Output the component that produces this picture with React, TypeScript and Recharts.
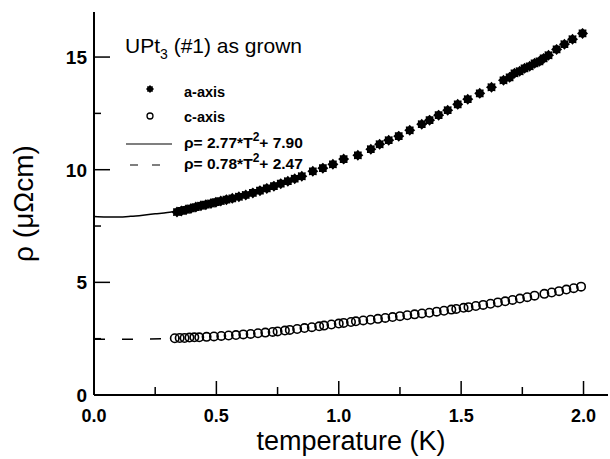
import React from "react";
import { ComposedChart, XAxis, YAxis, Scatter, Line, Legend, Label } from "recharts";

const xTicks = [0, 0.25, 0.5, 0.75, 1, 1.25, 1.5, 1.75, 2];
const xMajor = [0, 0.5, 1, 1.5, 2];
const yTicks = [0, 2.5, 5, 7.5, 10, 12.5, 15];
const yMajor = [0, 5, 10, 15];

// [T (K), rho (µΩcm)]
const aAxis: [number, number][] = [
  [0.339, 8.12], [0.357, 8.17], [0.376, 8.22], [0.396, 8.28], [0.416, 8.34],
  [0.437, 8.4], [0.457, 8.45], [0.478, 8.5], [0.498, 8.56], [0.518, 8.61],
  [0.541, 8.67], [0.565, 8.73], [0.592, 8.8], [0.62, 8.88], [0.649, 8.97],
  [0.678, 9.07], [0.706, 9.17], [0.735, 9.27], [0.763, 9.38], [0.792, 9.49],
  [0.82, 9.6], [0.849, 9.71], [0.894, 9.93], [0.935, 10.07], [0.976, 10.24],
  [1.02, 10.47], [1.078, 10.64], [1.131, 10.91], [1.167, 11.13], [1.204, 11.31],
  [1.245, 11.49], [1.29, 11.75], [1.339, 12.02], [1.371, 12.2], [1.408, 12.42],
  [1.445, 12.64], [1.486, 12.9], [1.527, 13.13], [1.576, 13.39], [1.624, 13.66],
  [1.673, 13.97], [1.698, 14.1], [1.718, 14.28], [1.739, 14.37], [1.759, 14.5],
  [1.78, 14.59], [1.8, 14.72], [1.82, 14.81], [1.837, 14.94], [1.857, 15.08],
  [1.89, 15.34], [1.922, 15.57], [1.955, 15.79], [1.996, 16.05],
];

const cAxis: [number, number][] = [
  [0.33, 2.52], [0.35, 2.53], [0.37, 2.53], [0.39, 2.55], [0.41, 2.56],
  [0.43, 2.56], [0.46, 2.58], [0.49, 2.6], [0.52, 2.62], [0.55, 2.64],
  [0.58, 2.66], [0.61, 2.69], [0.64, 2.71], [0.67, 2.74], [0.7, 2.77],
  [0.73, 2.8], [0.75, 2.82], [0.78, 2.86], [0.8, 2.89], [0.83, 2.93],
  [0.86, 2.97], [0.89, 3.01], [0.92, 3.05], [0.94, 3.08], [0.97, 3.13],
  [1.0, 3.17], [1.02, 3.2], [1.05, 3.24], [1.07, 3.27], [1.1, 3.31],
  [1.13, 3.34], [1.16, 3.38], [1.19, 3.42], [1.22, 3.46], [1.25, 3.5],
  [1.28, 3.54], [1.31, 3.58], [1.34, 3.62], [1.37, 3.65], [1.4, 3.7],
  [1.43, 3.74], [1.46, 3.79], [1.48, 3.82], [1.51, 3.87], [1.53, 3.9],
  [1.56, 3.95], [1.59, 4.0], [1.62, 4.05], [1.65, 4.11], [1.68, 4.16],
  [1.71, 4.22], [1.74, 4.28], [1.77, 4.34], [1.8, 4.41], [1.84, 4.49],
  [1.87, 4.55], [1.9, 4.61], [1.93, 4.68], [1.96, 4.74], [1.99, 4.81],
];

// fit curves, only the low-T part is visible below the data
const fitA: [number, number][] = [
  [0, 7.92], [0.05, 7.9], [0.1, 7.9], [0.15, 7.93], [0.2, 7.98], [0.25, 8.04], [0.3, 8.1], [0.35, 8.18],
];
const fitC: [number, number][] = [
  [0, 2.47], [0.1, 2.47], [0.2, 2.48], [0.3, 2.5], [0.35, 2.52],
];

const toRows = (pts: [number, number][]) => pts.map(([T, rho]) => ({ T, rho }));

const FONT = "'Liberation Sans', Arial, sans-serif";

const Star = ({ cx, cy, r = 5.5 }: any) => {
  const pts: string[] = [];
  for (let i = 0; i < 16; i++) {
    const rad = i % 2 === 0 ? r : r * 0.75;
    const a = (Math.PI * i) / 8;
    pts.push(`${cx + rad * Math.cos(a)},${cy + rad * Math.sin(a)}`);
  }
  return <polygon points={pts.join(" ")} fill="#000" />;
};

const Ring = ({ cx, cy }: any) => (
  <circle cx={cx} cy={cy} r={4.2} fill="none" stroke="#000" strokeWidth={1.6} />
);

const BottomTick = ({ x, y, payload }: any) => {
  const major = xMajor.includes(payload.value);
  return (
    <g>
      <line x1={x} x2={x} y1={y} y2={y - (major ? 14 : 8)} stroke="#000" strokeWidth={1.5} />
      {major && (
        <text x={x} y={y + 27} textAnchor="middle" fontFamily={FONT} fontWeight="bold" fontSize={18} fill="#000">
          {payload.value.toFixed(1)}
        </text>
      )}
    </g>
  );
};

const TopTick = ({ x, y, payload }: any) => {
  const major = xMajor.includes(payload.value);
  return <line x1={x} x2={x} y1={y} y2={y + (major ? 15 : 9)} stroke="#000" strokeWidth={1.5} />;
};

const LeftTick = ({ x, y, payload }: any) => {
  const major = yMajor.includes(payload.value);
  return (
    <g>
      <line x1={x} x2={x + (major ? 16 : 7)} y1={y} y2={y} stroke="#000" strokeWidth={1.5} />
      {major && (
        <text x={x - 7} y={y} dy="0.36em" textAnchor="end" fontFamily={FONT} fontWeight="bold" fontSize={19} fill="#000">
          {payload.value}
        </text>
      )}
    </g>
  );
};

const RightTick = ({ x, y, payload }: any) => {
  const major = yMajor.includes(payload.value);
  return <line x1={x} x2={x - (major ? 15 : 10)} y1={y} y2={y} stroke="#000" strokeWidth={1.5} />;
};

const LegendBox = () => (
  <svg width={610} height={200} style={{ position: "absolute", left: 0, top: 0, pointerEvents: "none" }}>
    <text x={125} y={53} fontFamily={FONT} fontSize={21} fill="#000">
      UPt<tspan fontSize={14} dy={6}>3</tspan>
      <tspan dy={-6}> (#1) as grown</tspan>
    </text>
    <Star cx={150} cy={89} r={4} />
    <text x={184} y={97} fontFamily={FONT} fontWeight="bold" fontSize={14.5} fill="#000">a-axis</text>
    <circle cx={150} cy={116} r={3} fill="none" stroke="#000" strokeWidth={1.3} />
    <text x={184} y={122} fontFamily={FONT} fontWeight="bold" fontSize={14.5} fill="#000">c-axis</text>
    <line x1={126} x2={172} y1={144} y2={144} stroke="#000" strokeWidth={1.2} />
    <text x={184} y={148} fontFamily={FONT} fontWeight="bold" fontSize={15.5} fill="#000">
      ρ= 2.77*T<tspan fontSize={12} dy={-7}>2</tspan>
      <tspan dy={7}>+ 7.90</tspan>
    </text>
    <line x1={130} x2={172} y1={165} y2={165} stroke="#000" strokeWidth={1.2} strokeDasharray="8 14" />
    <text x={184} y={169} fontFamily={FONT} fontWeight="bold" fontSize={15.5} fill="#000">
      ρ= 0.78*T<tspan fontSize={12} dy={-7}>2</tspan>
      <tspan dy={7}>+ 2.47</tspan>
    </text>
  </svg>
);

export default function App() {
  return (
    <div style={{ position: "absolute", left: 0, top: 0, width: 610, height: 459, background: "#fff" }}>
      <ComposedChart width={610} height={459} margin={{ top: 12, right: 2, bottom: 34, left: 34 }}>
        <XAxis
          xAxisId="b"
          dataKey="T"
          type="number"
          domain={[0, 2.1]}
          ticks={xTicks}
          height={30}
          tickSize={0}
          tickMargin={0}
          tickLine={false}
          tick={<BottomTick />}
          axisLine={{ stroke: "#000", strokeWidth: 2 }}
          allowDataOverflow
        >
          <Label
            content={({ viewBox }: any) => (
              <text x={viewBox.x + viewBox.width / 2} y={viewBox.y + 55} textAnchor="middle" fontFamily={FONT} fontSize={27} fill="#000">
                temperature (K)
              </text>
            )}
          />
        </XAxis>
        <XAxis
          xAxisId="t"
          orientation="top"
          type="number"
          domain={[0, 2.1]}
          ticks={xTicks}
          height={0}
          tickSize={0}
          tickMargin={0}
          tickLine={false}
          tick={<TopTick />}
          axisLine={{ stroke: "#000", strokeWidth: 1.5 }}
          allowDataOverflow
        />
        <YAxis
          yAxisId="l"
          type="number"
          domain={[0, 17]}
          ticks={yTicks}
          width={60}
          tickSize={0}
          tickMargin={0}
          tickLine={false}
          tick={<LeftTick />}
          axisLine={{ stroke: "#000", strokeWidth: 2 }}
          allowDataOverflow
        >
          <Label
            content={({ viewBox }: any) => {
              const cx = viewBox.x - 1;
              const cy = viewBox.y + viewBox.height / 2;
              return (
                <text x={cx} y={cy} transform={`rotate(-90, ${cx}, ${cy})`} textAnchor="middle" fontFamily={FONT} fontSize={28} fill="#000">
                  ρ (μΩcm)
                </text>
              );
            }}
          />
        </YAxis>
        <YAxis
          yAxisId="r"
          orientation="right"
          type="number"
          domain={[0, 17]}
          ticks={yTicks}
          width={0}
          tickSize={0}
          tickMargin={0}
          tickLine={false}
          tick={<RightTick />}
          axisLine={{ stroke: "#000", strokeWidth: 1.5 }}
          allowDataOverflow
        />
        <Line
          xAxisId="b"
          yAxisId="l"
          data={toRows(fitA)}
          dataKey="rho"
          type="monotone"
          stroke="#000"
          strokeWidth={1.5}
          dot={false}
          activeDot={false}
          isAnimationActive={false}
        />
        <Line
          xAxisId="b"
          yAxisId="l"
          data={toRows(fitC)}
          dataKey="rho"
          type="monotone"
          stroke="#000"
          strokeWidth={1.5}
          strokeDasharray="11 17"
          dot={false}
          activeDot={false}
          isAnimationActive={false}
        />
        <Scatter
          xAxisId="b"
          yAxisId="l"
          data={toRows(cAxis)}
          dataKey="rho"
          shape={(p: any) => <Ring {...p} />}
          isAnimationActive={false}
        />
        <Scatter
          xAxisId="b"
          yAxisId="l"
          data={toRows(aAxis)}
          dataKey="rho"
          shape={(p: any) => <Star {...p} />}
          isAnimationActive={false}
        />
        <Legend
          layout="vertical"
          align="center"
          verticalAlign="middle"
          wrapperStyle={{ left: 0, top: 0, width: 610, height: 200 }}
          content={() => <LegendBox />}
        />
      </ComposedChart>
    </div>
  );
}
